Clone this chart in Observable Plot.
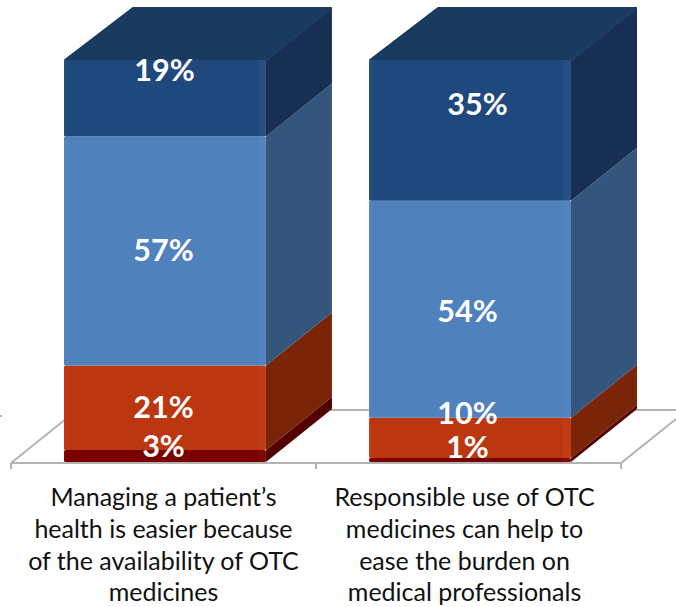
<!DOCTYPE html>
<html>
<head>
<meta charset="utf-8">
<script src="https://cdn.jsdelivr.net/npm/d3@7"></script>
<script src="https://cdn.jsdelivr.net/npm/@observablehq/plot@0.6"></script>
<style>
html,body{margin:0;padding:0;background:#fff;overflow:hidden}
svg{display:block}
</style>
</head>
<body>
<div id="chart"></div>
<script>
const categories = [
  "Managing a patient’s\nhealth is easier because\nof the availability of OTC\nmedicines",
  "Responsible use of OTC\nmedicines can help to\nease the burden on\nmedical professionals"
];
const seriesNames = ["Lowest", "Low", "High", "Highest"];
const lowest = [3, 1];
const low = [21, 10];
const high = [57, 54];
const highest = [19, 35];

const frontColors = ["#7a0000", "#bc370f", "#4f81bd", "#1f497d"];
const sideColors = ["#520000", "#7a2507", "#34557c", "#172f52"];
const topColor = "#1a3a60";
const depthX = 66, depthY = -53;

const rows = [];
categories.forEach((category, c) => {
  let base = 0;
  [lowest, low, high, highest].forEach((values, s) => {
    const value = values[c];
    rows.push({category, series: seriesNames[s], value, y1: base, y2: base + value, mid: base + value / 2});
    base += value;
  });
});

// label nudges, as placed by hand in the original
const nudges = [
  {dx: -2, dy: -9}, {dx: -2, dy: 0}, {dx: -2, dy: 0}, {dx: -1, dy: -27},
  {dx: -3, dy: -12}, {dx: -3, dy: -24}, {dx: -3, dy: 2}, {dx: 7, dy: -26}
];

const NS = "http://www.w3.org/2000/svg";
function el(name, attrs) {
  const e = document.createElementNS(NS, name);
  for (const k in attrs) e.setAttribute(k, attrs[k]);
  return e;
}
const poly = (pts, attrs) => el("polygon", {points: pts.map(p => p.join(",")).join(" "), ...attrs});
const bw = s => typeof s.bandwidth === "function" ? s.bandwidth() : s.bandwidth;
const stp = s => typeof s.step === "function" ? s.step() : s.step;

function floorMark(index, {x, y}) {
  const g = el("g", {fill: "none", stroke: "#b3b3b3", "stroke-width": 2});
  const step = stp(x);
  const x0 = x(categories[0]) - 53;
  const yb = y(0) + 1;
  const line = (a, b, c, d) => g.appendChild(el("line", {x1: a, y1: b, x2: c, y2: d}));
  line(x0, yb, x0 + 2 * step, yb);
  line(x0 + depthX, yb + depthY, x0 + 2 * step + depthX, yb + depthY);
  for (let i = 0; i <= 2; i++) {
    if (i !== 1) line(x0 + i * step, yb, x0 + i * step + depthX, yb + depthY);
    line(x0 + i * step, yb, x0 + i * step, yb + 6);
  }
  line(0, yb - 47, 2, yb - 47);
  return g;
}

function depthMark(index, {x, y}) {
  const g = el("g", {});
  const w = bw(x);
  rows.forEach((r, i) => {
    const xr = x(r.category) + w;
    const a = y(r.y1), b = y(r.y2);
    g.appendChild(poly([[xr, a], [xr + depthX, a + depthY], [xr + depthX, b + depthY], [xr, b]], {fill: sideColors[i % 4]}));
  });
  categories.forEach(c => {
    const xl = x(c), xr = xl + w, t = y(100);
    g.appendChild(poly([[xl + 1, t], [xl + depthX + 3, t + depthY + 1], [xr + depthX - 1, t + depthY + 1], [xr, t]],
      {fill: topColor, stroke: topColor, "stroke-width": 2, "stroke-linejoin": "round"}));
    g.appendChild(el("line", {x1: xr, y1: t, x2: xr + depthX - 1, y2: t + depthY + 1, stroke: "#1c3c68", "stroke-width": 3}));
  });
  return g;
}

function bevelMark(index, {x, y}) {
  const g = el("g", {});
  const w = bw(x);
  rows.forEach(r => {
    const xl = x(r.category), a = y(r.y1), b = y(r.y2);
    const h = a - b;
    g.appendChild(el("rect", {x: xl + w - 8, y: b, width: 8, height: h, fill: "#fff", opacity: 0.03}));
    g.appendChild(el("rect", {x: xl, y: b, width: 3, height: h, fill: "#fff", opacity: 0.02}));
  });
  return g;
}

const plot = Plot.plot({
  width: 676,
  height: 607,
  marginLeft: 64,
  marginRight: 105,
  marginTop: 60,
  marginBottom: 145,
  style: {background: "#fff", overflow: "hidden"},
  x: {domain: categories, paddingInner: 0.338, paddingOuter: 0, round: false, label: null},
  y: {domain: [0, 100], label: null, axis: null},
  color: {domain: seriesNames, range: frontColors},
  marks: [
    floorMark,
    depthMark,
    Plot.barY(rows, {x: "category", y1: "y1", y2: "y2", fill: "series", rx: 1.5}),
    bevelMark,
    ...rows.map((r, i) => Plot.text([r], {
      x: "category", y: "mid", text: d => d.value + "%",
      dx: nudges[i].dx, dy: nudges[i].dy,
      fill: "#fff", fontSize: 30.5, fontWeight: 700, fontFamily: "Lato"
    })),
    Plot.axisX([categories[0]], {
      anchor: "bottom", tickSize: 0, tickPadding: 21, label: null, dx: -2,
      fontSize: 25, lineHeight: 1.27, fontFamily: "Lato", fill: "#111", tickFormat: d => d
    }),
    Plot.axisX([categories[1]], {
      anchor: "bottom", tickSize: 0, tickPadding: 21, label: null, dx: -6,
      fontSize: 25, lineHeight: 1.27, fontFamily: "Lato", fill: "#111", tickFormat: d => d
    })
  ]
});
document.getElementById("chart").appendChild(plot);
</script>
</body>
</html>
